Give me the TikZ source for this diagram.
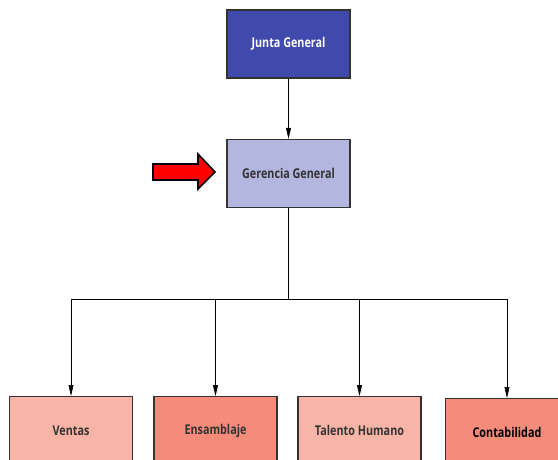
\documentclass[tikz,border=0pt]{standalone}
\usepackage{fontspec}
\setmainfont{Open Sans}
\newfontfamily\orgfont{Open Sans}[FakeStretch=0.8]
\usetikzlibrary{arrows.meta}
\definecolor{juntablue}{HTML}{4049AC}
\definecolor{gerlila}{HTML}{B3B6DE}
\definecolor{areapale}{HTML}{F8B5A7}
\definecolor{areadark}{HTML}{F48C79}
\tikzset{
  orgbox/.style={draw=black!80, line width=1.4pt, minimum width=123pt,
    minimum height=68pt, inner sep=0pt,
    font=\orgfont\bfseries\fontsize{13.5}{15}\selectfont, text=black!80},
  orgarrow/.style={-{Triangle[width=5pt,length=11pt]}, line width=0.6pt}
}

\begin{document}
\begin{tikzpicture}[x=1pt, y=-1pt]
  \useasboundingbox (0,0) rectangle (558,459);
  \clip (0,0) rectangle (558,459);

  % ── Upper levels ─────────────────────────────────────────────────
  \node[orgbox, fill=juntablue, text=white] (junta) at (288.5,44) {Junta General};
  \node[orgbox, fill=gerlila]               (gerencia) at (288.5,173.5) {Gerencia General};

  \draw[orgarrow] (junta) -- (gerencia);

  % red pointer
  \draw[fill=red, line width=1.6pt, line join=miter]
    (153,164) -- (198,164) -- (198,154) -- (215,172) -- (198,189)
    -- (198,180) -- (153,180) -- cycle;

  % ── Areas ────────────────────────────────────────────────────────
  \node[orgbox, fill=areapale, anchor=north] (ventas)   at (71,396)  {Ventas};
  \node[orgbox, fill=areadark, anchor=north] (ensamble) at (215.5,396) {Ensamblaje};
  \node[orgbox, fill=areapale, anchor=north] (talento)  at (359.5,396) {Talento Humano};
  \node[orgbox, fill=areadark, anchor=north, text=black] (conta) at (507,398) {Contabilidad};

  \coordinate (bus) at (288.5,299);
  \draw[line width=0.6pt] (gerencia) -- (bus);
  \draw[line width=0.6pt] (ventas.north |- bus) -- (conta.north |- bus);

  \foreach \area in {ventas, ensamble, talento, conta}
    { \draw[orgarrow] (\area.north |- bus) -- (\area.north); }
\end{tikzpicture}
\end{document}
